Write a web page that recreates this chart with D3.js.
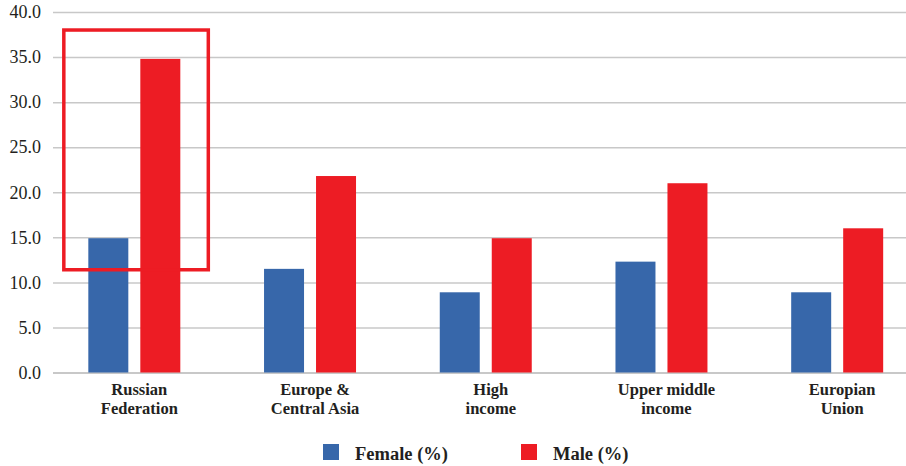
<!DOCTYPE html>
<html>
<head>
<meta charset="utf-8">
<script src="https://cdn.jsdelivr.net/npm/d3@7"></script>
<style>
  body { margin: 0; background: #fff; }
  text { font-family: "Liberation Serif", "DejaVu Serif", serif; fill: #231f20; }
</style>
</head>
<body>
<div id="chart"></div>
<script>
var categories = [
    ['Russian', 'Federation'],
    ['Europe &', 'Central Asia'],
    ['High', 'income'],
    ['Upper middle', 'income'],
    ['Europian', 'Union']
];
var series = ['Female (%)', 'Male (%)'];
var female = [14.9, 11.5, 8.9, 12.3, 8.9];
var male = [34.8, 21.8, 14.9, 21.0, 16.0];
var yTicks = [0, 5, 10, 15, 20, 25, 30, 35, 40];

// highlighted category and the value span of the box around it
var highlight = { index: 0, from: 11.4, to: 38.0 };

var colors = { 'Female (%)': '#3767aa', 'Male (%)': '#ed1c24' };

var width = 906, height = 466;

var svg = d3.select('#chart').append('svg')
    .attr('width', width).attr('height', height);

var keys = categories.map(function(c) { return c.join(' '); });
var values = [female, male];

var x0 = d3.scaleBand().domain(keys).range([46.5, 925])
    .paddingInner(0.4765).paddingOuter(0.238);
var x1 = d3.scaleBand().domain(series).range([0, x0.bandwidth()])
    .paddingInner(0.2308);
var y = d3.scaleLinear().domain([0, 40]).range([372.5, 12]);

// grid + y labels
var yAxis = d3.axisLeft(y).tickValues(yTicks)
    .tickFormat(d3.format('.1f'))
    .tickSize(-(width - 53)).tickPadding(12);

svg.append('g')
    .attr('transform', 'translate(53,0)')
    .call(yAxis)
    .call(function(g) {
        g.select('.domain').remove();
        g.selectAll('.tick line')
            .attr('stroke', '#c8c8c8')
            .attr('stroke-width', function(d) { return d === 0 ? 2.2 : 1.5; });
        g.selectAll('.tick text')
            .attr('font-family', '"Liberation Serif", serif')
            .attr('font-size', 18)
            .attr('fill', '#231f20');
    });

// bars
var groups = svg.append('g').selectAll('g').data(keys).enter()
    .append('g')
    .attr('transform', function(k) { return 'translate(' + x0(k) + ',0)'; });

groups.selectAll('rect')
    .data(function(k, i) {
        return series.map(function(s, j) { return { s: s, v: values[j][i] }; });
    })
    .enter().append('rect')
    .attr('x', function(d) { return x1(d.s); })
    .attr('y', function(d) { return y(d.v); })
    .attr('width', x1.bandwidth())
    .attr('height', function(d) { return y(0) - y(d.v); })
    .attr('fill', function(d) { return colors[d.s]; });

// category labels
svg.append('g').selectAll('text').data(categories).enter()
    .append('text')
    .attr('text-anchor', 'middle')
    .attr('font-weight', 'bold')
    .attr('font-size', 16.5)
    .attr('transform', function(c, i) {
        return 'translate(' + (x0(keys[i]) + x0.bandwidth() / 2 + 5) + ',395)';
    })
    .each(function(c) {
        var t = d3.select(this);
        c.forEach(function(line, li) {
            t.append('tspan').attr('x', 0).attr('dy', li ? 19 : 0).text(line);
        });
    });

// highlight box
var hk = keys[highlight.index];
svg.append('rect')
    .attr('x', x0(hk) - 24.5)
    .attr('y', y(highlight.to))
    .attr('width', x0.bandwidth() + 52.5)
    .attr('height', y(highlight.from) - y(highlight.to))
    .attr('fill', 'none')
    .attr('stroke', '#ed1c24')
    .attr('stroke-width', 3.5);

// legend
var legend = svg.append('g').selectAll('g').data(series).enter()
    .append('g')
    .attr('transform', function(s, i) { return 'translate(' + (323 + i * 198) + ',444)'; });

legend.append('rect')
    .attr('width', 16).attr('height', 16)
    .attr('fill', function(s) { return colors[s]; });

legend.append('text')
    .attr('x', 32).attr('y', 16)
    .attr('font-weight', 'bold')
    .attr('font-size', 18.5)
    .text(function(s) { return s; });
</script>
</body>
</html>
